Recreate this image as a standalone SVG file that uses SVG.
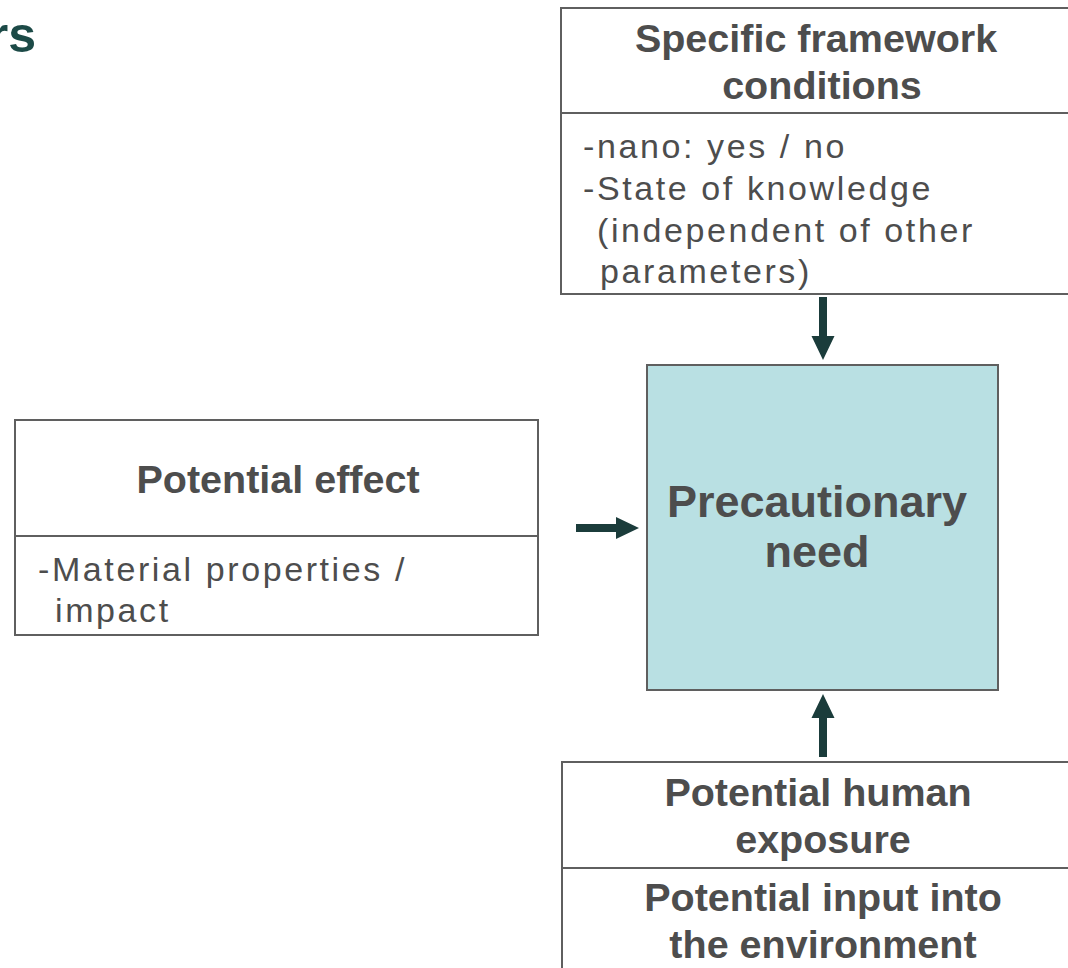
<svg xmlns="http://www.w3.org/2000/svg" width="1068" height="968" viewBox="0 0 1068 968">
<style>
.box{fill:#ffffff;stroke:#5f5f5f;stroke-width:2}
.core{fill:#b9e0e3;stroke:#5f5f5f;stroke-width:2}
.div{stroke:#5f5f5f;stroke-width:2}
.h{font-family:"Liberation Sans",Arial,sans-serif;font-weight:bold;font-size:39.5px;fill:#4d4d4d;text-anchor:middle}
.hc{font-family:"Liberation Sans",Arial,sans-serif;font-weight:bold;font-size:45px;fill:#4d4d4d;text-anchor:middle}
.b{font-family:"Liberation Sans",Arial,sans-serif;font-size:34px;fill:#4d4d4d;letter-spacing:2.6px}
.arr{fill:#1b3c3b}
.title{font-family:"Liberation Sans",Arial,sans-serif;font-weight:bold;font-size:50px;fill:#1c4a47;text-anchor:end}
</style>
<text class="title" x="36" y="52">rs</text>
<g id="framework">
<rect class="box" x="561" y="8" width="520" height="286"/>
<line class="div" x1="561" y1="113" x2="1080" y2="113"/>
<text class="h" x="816" y="52">Specific framework</text>
<text class="h" x="822" y="99">conditions</text>
<text class="b" x="583" y="158">-nano: yes / no</text>
<text class="b" x="583" y="200">-State of knowledge</text>
<text class="b" x="597" y="242">(independent of other</text>
<text class="b" x="600" y="283">parameters)</text>
</g>
<g id="effect">
<rect class="box" x="15" y="420" width="523" height="215"/>
<line class="div" x1="15" y1="536" x2="538" y2="536"/>
<text class="h" x="278" y="493">Potential effect</text>
<text class="b" x="38" y="581">-Material properties /</text>
<text class="b" x="55" y="622">impact</text>
</g>
<g id="precautionary">
<rect class="core" x="647" y="365" width="351" height="325"/>
<text class="hc" x="817" y="517">Precautionary</text>
<text class="hc" x="817" y="567">need</text>
</g>
<g id="exposure">
<rect class="box" x="562" y="762" width="520" height="220"/>
<line class="div" x1="562" y1="868" x2="1081" y2="868"/>
<text class="h" x="818" y="806">Potential human</text>
<text class="h" x="823" y="853">exposure</text>
<text class="h" x="823" y="911">Potential input into</text>
<text class="h" x="823" y="958">the environment</text>
</g>
<g id="connectors">
<polygon class="arr" points="819,297 827,297 827,336 834.5,336 823,360 811.5,336 819,336"/>
<polygon class="arr" points="576,524 616,524 616,517 639,528 616,539 616,532 576,532"/>
<polygon class="arr" points="819,757 827,757 827,718 834.5,718 823,694 811.5,718 819,718"/>
</g>
</svg>
